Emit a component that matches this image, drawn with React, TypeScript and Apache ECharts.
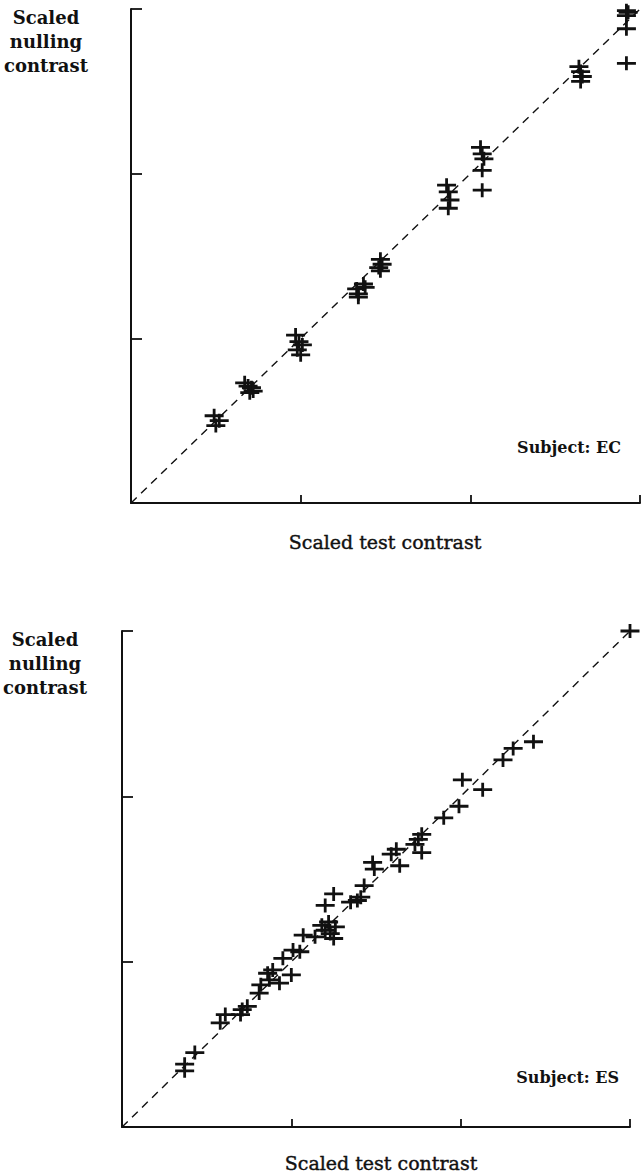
import { useEffect, useRef } from "react";
import * as echarts from "echarts";

// Shared scale of both panels (scaled contrast units)
const AXIS_MIN = 0;
const AXIS_MAX = 3;
const AXIS_STEP = 1;

// Subject EC: scaled test contrast vs scaled nulling contrast
const ecTest = [
  0.49, 0.52, 0.5,
  0.67, 0.69, 0.71, 0.72, 0.7,
  0.97, 0.99, 1.01, 0.98, 1.0,
  1.33, 1.34, 1.37, 1.38, 1.34,
  1.47, 1.48, 1.46, 1.47,
  1.86, 1.87, 1.88, 1.87,
  2.06, 2.07, 2.08, 2.07, 2.07,
  2.64, 2.65, 2.66, 2.65,
  2.92, 2.93, 2.92, 2.92, 2.92,
];
const ecNulling = [
  0.53, 0.5, 0.47,
  0.73, 0.71, 0.7, 0.68, 0.67,
  1.02, 0.98, 0.96, 0.93, 0.9,
  1.3, 1.27, 1.33, 1.31, 1.25,
  1.48, 1.45, 1.43, 1.41,
  1.93, 1.89, 1.84, 1.79,
  2.16, 2.12, 2.09, 2.02, 1.9,
  2.65, 2.62, 2.59, 2.56,
  2.99, 2.98, 2.96, 2.88, 2.67,
];

// Subject ES
const esTest = [
  0.37, 0.37, 0.43,
  0.58, 0.61, 0.7, 0.71, 0.74,
  0.81, 0.82, 0.86, 0.89, 0.93, 0.87, 1.0, 0.95, 1.01, 1.05,
  1.07, 1.14, 1.18, 1.2, 1.23, 1.25, 1.26, 1.22,
  1.2, 1.25, 1.35, 1.39, 1.41, 1.43,
  1.48, 1.49, 1.59, 1.62, 1.64,
  1.73, 1.75, 1.77, 1.77,
  1.9, 1.99, 2.01, 2.13,
  2.25, 2.31, 2.43, 3.0,
];
const esNulling = [
  0.34, 0.38, 0.45,
  0.63, 0.68, 0.68, 0.71, 0.73,
  0.81, 0.86, 0.93, 0.95, 0.87, 0.89, 0.92, 1.02, 1.07, 1.06,
  1.16, 1.15, 1.22, 1.19, 1.17, 1.14, 1.21, 1.24,
  1.34, 1.41, 1.36, 1.37, 1.39, 1.46,
  1.6, 1.56, 1.65, 1.68, 1.58,
  1.71, 1.74, 1.77, 1.66,
  1.87, 1.94, 2.1, 2.04,
  2.22, 2.29, 2.33, 3.0,
];

// Identity reference line endpoints
const diagonal = [AXIS_MIN, AXIS_MAX];

const panelTitles = ["Subject: EC", "Subject: ES"];
const yLabel = "Scaled\nnulling\ncontrast";
const xLabel = "Scaled test contrast";

const INK = "#111111";
const SERIF = "'DejaVu Serif', 'Liberation Serif', serif";
// A filled plus-sign glyph
const PLUS = "path://M0,5.6 H8.1 V0 H10.9 V5.6 H19 V8.4 H10.9 V14 H8.1 V8.4 H0 Z";

const zip = (xs: number[], ys: number[]) => xs.map((x, i) => [x, ys[i]]);

function axis(gridIndex: number, tickLen: number) {
  return {
    gridIndex,
    type: "value" as const,
    min: AXIS_MIN,
    max: AXIS_MAX,
    interval: AXIS_STEP,
    axisLine: { show: true, onZero: false, lineStyle: { color: INK, width: 2 } },
    axisTick: { show: true, inside: true, length: tickLen, lineStyle: { color: INK, width: 1.8 } },
    axisLabel: { show: false },
    splitLine: { show: false },
  };
}

export default function App() {
  const ref = useRef<HTMLDivElement>(null);

  useEffect(() => {
    document.body.style.margin = "0";
    if (!ref.current) return;
    const chart = echarts.init(ref.current, null, { renderer: "svg" });

    const grids = [
      { left: 131, top: 9, width: 509, height: 494 },
      { left: 122, top: 631, width: 508, height: 496 },
    ];
    const sets = [zip(ecTest, ecNulling), zip(esTest, esNulling)];

    const series: any[] = [];
    sets.forEach((pts, i) => {
      series.push({
        type: "line",
        xAxisIndex: i,
        yAxisIndex: i,
        data: zip(diagonal, diagonal),
        symbol: "none",
        silent: true,
        lineStyle: { color: INK, width: 1.4, type: [8, 6] },
        z: 1,
      });
      series.push({
        type: "scatter",
        xAxisIndex: i,
        yAxisIndex: i,
        data: pts,
        symbol: PLUS,
        symbolSize: [19, 14],
        itemStyle: { color: INK, opacity: 1 },
        z: 2,
      });
    });

    const graphic: any[] = [];
    const layout = [
      { yl: [46, 5], xl: [385, 542], st: [621, 447] },
      { yl: [45, 627], xl: [381, 1163], st: [619, 1077] },
    ];
    layout.forEach((p, i) => {
      graphic.push({
        type: "text",
        x: p.yl[0],
        y: p.yl[1],
        style: {
          fontFamily: SERIF,
          fontSize: 18,
          fontWeight: "bold",
          fill: INK,
          text: yLabel,
          align: "center",
          verticalAlign: "top",
          lineHeight: 24,
        },
      });
      graphic.push({
        type: "text",
        x: p.xl[0],
        y: p.xl[1],
        style: {
          fontFamily: SERIF,
          fontSize: 19,
          fill: INK,
          stroke: INK,
          lineWidth: 0.4,
          text: xLabel,
          align: "center",
          verticalAlign: "middle",
        },
      });
      graphic.push({
        type: "text",
        x: p.st[0],
        y: p.st[1],
        style: {
          fontFamily: SERIF,
          fontSize: 16,
          fontWeight: "bold",
          fill: INK,
          text: panelTitles[i],
          align: "right",
          verticalAlign: "middle",
        },
      });
    });

    chart.setOption({
      animation: false,
      backgroundColor: "#ffffff",
      grid: grids,
      xAxis: [axis(0, 8), axis(1, 8)],
      yAxis: [axis(0, 11), axis(1, 11)],
      series,
      graphic,
    });

    return () => chart.dispose();
  }, []);

  return (
    <div
      ref={ref}
      style={{ position: "absolute", left: 0, top: 0, width: 641, height: 1174, background: "#fff" }}
    />
  );
}
